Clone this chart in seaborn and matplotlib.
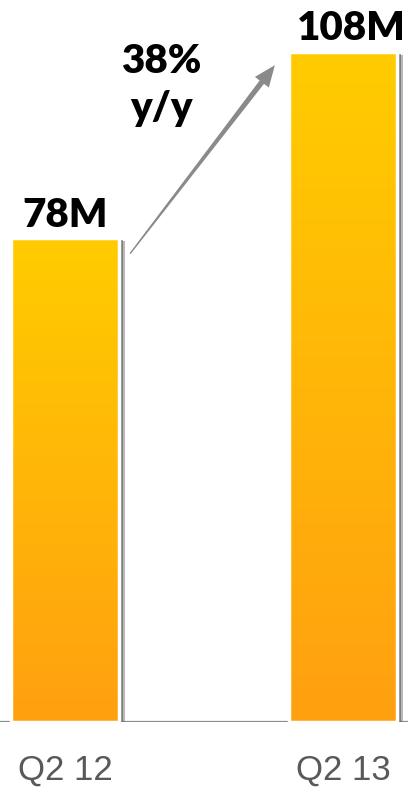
import numpy as np
import pandas as pd
import matplotlib
matplotlib.use("Agg")
import matplotlib.pyplot as plt
import matplotlib.patheffects as pe
from matplotlib.patches import Rectangle
from matplotlib.colors import LinearSegmentedColormap
import seaborn as sns

# Data
quarters = ["Q2 12", "Q2 13"]
users_m = [78, 108]
value_labels = ["78M", "108M"]
growth_lines = ["38%", "y/y"]

sns.set_theme(style="white")
plt.rcParams["font.family"] = ["Lato", "DejaVu Sans"]

fig = plt.figure(figsize=(4.08, 7.87), dpi=100)
ax = fig.add_axes([0, 65 / 787, 1, 722 / 787])

df = pd.DataFrame({"quarter": quarters, "users": users_m})
bar_w = 0.39
sns.barplot(data=df, x="quarter", y="users", ax=ax, width=bar_w,
            color="white", saturation=1, zorder=1)

# Vertical yellow-to-orange gradient inside each bar, with a soft drop shadow
grad = np.linspace(0, 1, 256).reshape(-1, 1)
cmap = LinearSegmentedColormap.from_list("bar", ["#FFA010", "#FFCC00"])
for p in list(ax.patches):
    x0, y0, w, h = p.get_x(), p.get_y(), p.get_width(), p.get_height()
    p.set_linewidth(0)
    p.set_path_effects([
        pe.SimplePatchShadow(offset=(4, -2.5), shadow_rgbFace=(0.45, 0.45, 0.45), alpha=0.5),
        pe.SimplePatchShadow(offset=(2.5, -1.5), shadow_rgbFace=(0.35, 0.35, 0.35), alpha=0.6),
        pe.Normal(),
    ])
    im = ax.imshow(grad, extent=[x0, x0 + w, y0, y0 + h], origin="lower",
                   cmap=cmap, aspect="auto", zorder=2, interpolation="bilinear")
    im.set_clip_path(p)
    ax.add_patch(Rectangle((x0, y0), w, h, fill=False, edgecolor="white",
                           linewidth=2.5, zorder=3))

ax.set_xlim(-0.234, 1.234)
ax.set_ylim(0, 116.3)

# Baseline
ax.axhline(0, color="#8c8c8c", linewidth=1.6, zorder=0.5)

for s in ax.spines.values():
    s.set_visible(False)
ax.set_yticks([])
ax.set_xlabel("")
ax.set_ylabel("")
ax.tick_params(axis="x", length=0, pad=23, labelsize=25, labelcolor="#595959")
for t in ax.get_xticklabels():
    t.set_fontfamily(["Liberation Sans", "DejaVu Sans"])

# Value labels above the bars
for i, (v, lab) in enumerate(zip(users_m, value_labels)):
    ax.annotate(lab, xy=(i, v + 1.8), xytext=(6 * i, 0), textcoords="offset points",
                ha="center", va="baseline", fontsize=29, fontweight="heavy",
                color="black")

# Growth arrow from the first bar to the second: tapered shaft plus arrow head
tail = (bar_w / 2 + 0.04, users_m[0] - 2.5)
tip = (1 - bar_w / 2 - 0.05, users_m[1] - 2.2)
neck = (tail[0] + 0.93 * (tip[0] - tail[0]), tail[1] + 0.93 * (tip[1] - tail[1]))
arrow_grey = "#8a8a8a"
ax.annotate("", xy=tail, xytext=neck,
            arrowprops=dict(arrowstyle="wedge,tail_width=0.3,shrink_factor=0.5",
                            color=arrow_grey, shrinkA=0, shrinkB=0, mutation_scale=10),
            zorder=4)
ax.annotate("", xy=tip, xytext=(neck[0] - 0.01, neck[1] - 0.6),
            arrowprops=dict(arrowstyle="-|>,head_length=1.1,head_width=0.45",
                            color=arrow_grey, lw=0, shrinkA=0, shrinkB=0,
                            mutation_scale=14),
            zorder=4)

ax.text(0.345, 104.5, growth_lines[0], ha="center", va="baseline",
        fontsize=29, fontweight="heavy", color="black")
ax.text(0.345, 96.9, growth_lines[1], ha="center", va="baseline",
        fontsize=29, fontweight="heavy", color="black")

fig.savefig("out.png", dpi=100)
